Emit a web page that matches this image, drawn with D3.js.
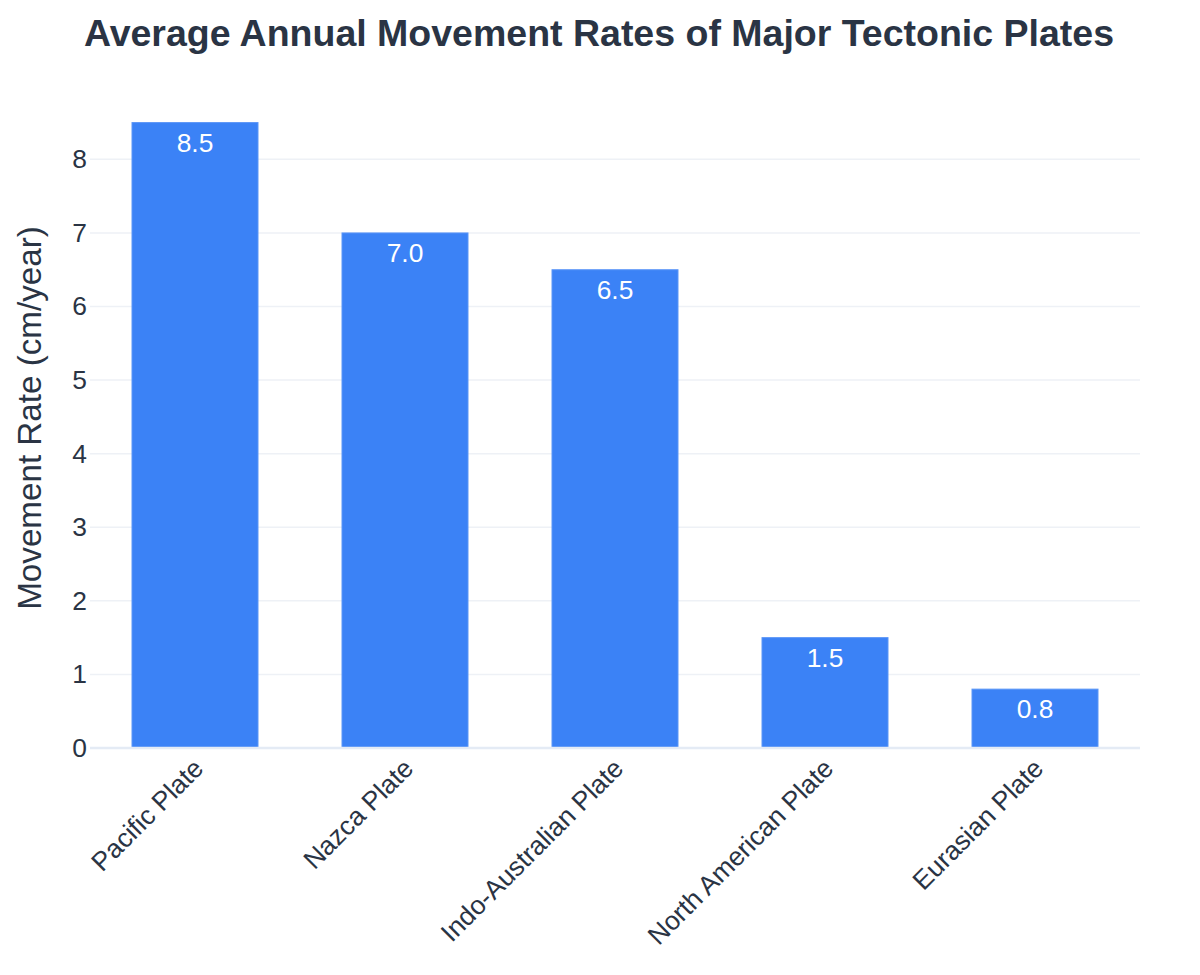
<!DOCTYPE html>
<html><head><meta charset="utf-8">
<script src="https://cdn.jsdelivr.net/npm/d3@7"></script>
<style>html,body{margin:0;padding:0;background:#fff;}svg{display:block;font-family:"Liberation Sans",Arial,sans-serif;}</style>
</head><body>
<script>
const categories = ["Pacific Plate","Nazca Plate","Indo-Australian Plate","North American Plate","Eurasian Plate"];
const rates = [8.5, 7.0, 6.5, 1.5, 0.8];
const yTicks = [0,1,2,3,4,5,6,7,8];
const titleText = "Average Annual Movement Rates of Major Tectonic Plates";
const yTitle = "Movement Rate (cm/year)";

const W=1200,H=975;
const m={left:90,right:60,top:88,bottom:227};
const svg=d3.select("body").append("svg").attr("width",W).attr("height",H);
const x=d3.scaleBand().domain(categories).range([m.left,W-m.right]).paddingInner(0.4).paddingOuter(0.2);
const y=d3.scaleLinear().domain([0,8.97]).range([H-m.bottom,m.top]);
const textColor="#2a3444";

// grid
svg.append("g").selectAll("line").data(yTicks.filter(d=>d>0)).join("line")
  .attr("x1",m.left).attr("x2",W-m.right).attr("y1",d=>y(d)).attr("y2",d=>y(d))
  .attr("stroke","#eef1f6").attr("stroke-width",1.5);

// bars
svg.append("g").selectAll("rect").data(rates).join("rect")
  .attr("x",(d,i)=>x(categories[i])).attr("width",x.bandwidth())
  .attr("y",d=>y(d)).attr("height",d=>y(0)-y(d))
  .attr("fill","#3b82f6").attr("stroke","#5b96f7").attr("stroke-width",1);

// zero line
svg.append("line").attr("x1",m.left).attr("x2",W-m.right).attr("y1",y(0)).attr("y2",y(0))
  .attr("stroke","#e4ebf5").attr("stroke-width",2.5);

// bar labels
svg.append("g").selectAll("text").data(rates).join("text")
  .attr("x",(d,i)=>x(categories[i])+x.bandwidth()/2).attr("y",d=>y(d)+29)
  .attr("text-anchor","middle").attr("fill","#fff").attr("font-size",26.4)
  .text(d=>d.toFixed(1));

// y axis
const yAxis=d3.axisLeft(y).tickValues(yTicks).tickSize(0).tickPadding(3);
const gy=svg.append("g").attr("transform",`translate(${m.left},0)`).call(yAxis);
gy.select(".domain").remove();
gy.selectAll("text").attr("font-size",26.4).attr("fill",textColor).attr("font-family","Liberation Sans, Arial, sans-serif");

// x axis
const xAxis=d3.axisBottom(x).tickSize(0).tickPadding(0);
const gx=svg.append("g").attr("transform",`translate(0,${y(0)})`).call(xAxis);
gx.select(".domain").remove();
gx.selectAll("text").attr("font-size",26.4).attr("fill",textColor).attr("font-family","Liberation Sans, Arial, sans-serif")
  .attr("text-anchor","end").attr("dy",null).attr("y",0)
  .attr("transform","translate(10,22) rotate(-45)");

// y title
svg.append("text").attr("transform",`translate(41,${(y(0)+m.top)/2}) rotate(-90)`)
  .attr("text-anchor","middle").attr("font-size",33.2).attr("fill",textColor).text(yTitle);

// title
svg.append("text").attr("x",599).attr("y",46).attr("text-anchor","middle")
  .attr("font-size",37.5).attr("font-weight","bold").attr("fill",textColor).text(titleText);
</script>
</body></html>
